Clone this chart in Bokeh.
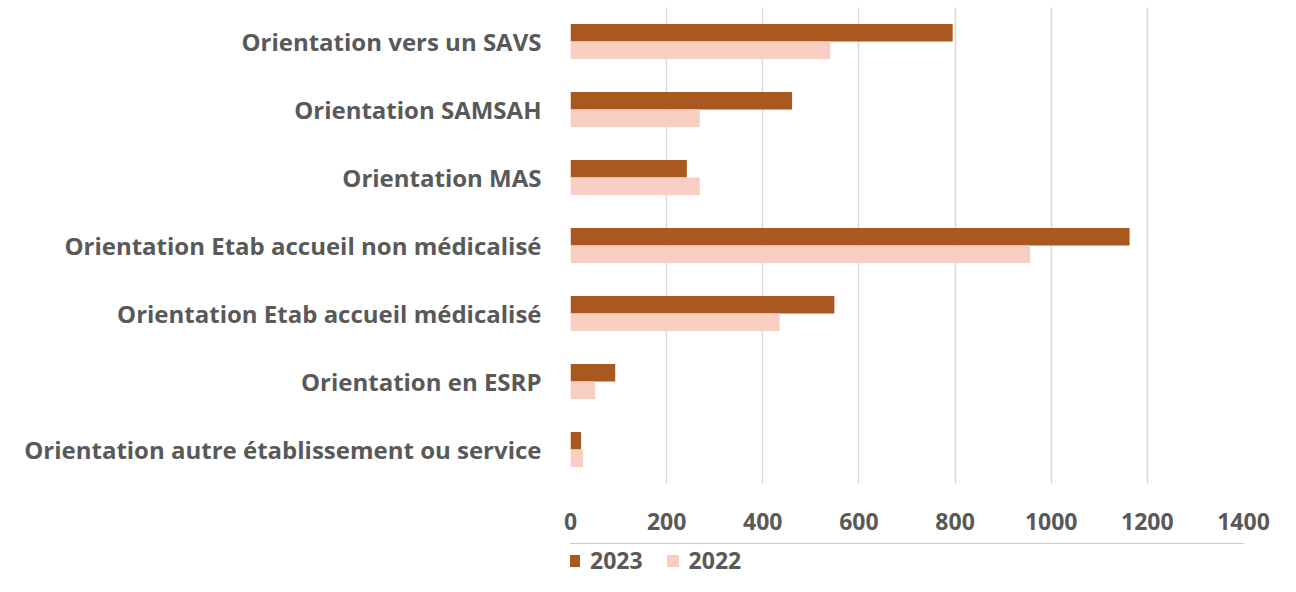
from bokeh.plotting import figure
from bokeh.layouts import column
from bokeh.models import ColumnDataSource, Legend, LegendItem, SingleIntervalTicker, Range1d, FactorRange
from bokeh.transform import dodge
from bokeh.embed import file_html
from bokeh.resources import INLINE

categories = [
    "Orientation vers un SAVS",
    "Orientation SAMSAH",
    "Orientation MAS",
    "Orientation Etab accueil non médicalisé",
    "Orientation Etab accueil médicalisé",
    "Orientation en ESRP",
    "Orientation autre établissement ou service",
]
values_2023 = [795, 461, 242, 1163, 549, 93, 22]
values_2022 = [540, 269, 269, 956, 435, 51, 26]
series_labels = ["2023", "2022"]

color_2023 = "#A9581F"
color_2022 = "#F8CDC2"
text_color = "#595959"
font = "Open Sans"

source = ColumnDataSource(dict(cat=categories, v2023=values_2023, v2022=values_2022))

p = figure(
    width=1280, height=543,
    y_range=FactorRange(*list(reversed(categories)), range_padding=0),
    x_range=Range1d(0, 1400),
    output_backend="svg", toolbar_location=None,
    min_border_left=570, min_border_right=37, min_border_top=7, min_border_bottom=60,
)
p.outline_line_color = None

r1 = p.hbar(y=dodge("cat", 0.13, range=p.y_range), right="v2023", left=0, height=0.257,
            source=source, fill_color=color_2023, line_color=None)
r2 = p.hbar(y=dodge("cat", -0.13, range=p.y_range), right="v2022", left=0, height=0.257,
            source=source, fill_color=color_2022, line_color=None)

p.xaxis.ticker = SingleIntervalTicker(interval=200)
p.xgrid.grid_line_color = "#D9D9D9"
p.xgrid.grid_line_width = 1.5
p.ygrid.grid_line_color = None

for ax in (p.xaxis, p.yaxis):
    ax.axis_line_color = None
    ax.major_tick_line_color = None
    ax.minor_tick_line_color = None
    ax.major_tick_out = 0
    ax.major_tick_in = 0
    ax.major_label_text_font = font
    ax.major_label_text_font_style = "bold"
    ax.major_label_text_color = text_color
p.xaxis.major_label_text_font_size = "23px"
p.yaxis.major_label_text_font_size = "24px"
p.xaxis.major_label_standoff = 25
p.yaxis.major_label_standoff = 29

# legend strip below the chart (its frame is aligned with the main frame)
leg = figure(
    width=1280, height=33, x_range=Range1d(0, 1), y_range=Range1d(0, 1),
    x_axis_type=None, y_axis_type=None, output_backend="svg", toolbar_location=None,
    min_border_left=0, min_border_right=0, min_border_top=0, min_border_bottom=0,
)
leg.outline_line_color = None
leg.xgrid.grid_line_color = None
leg.ygrid.grid_line_color = None
# proxy renderers for the legend swatches (zero-height, nothing drawn in the strip)
lr1 = leg.hbar(y="v2023", right="v2023", left=0, height=0, source=source,
               fill_color=color_2023, line_color=None)
lr2 = leg.hbar(y="v2022", right="v2022", left=0, height=0, source=source,
               fill_color=color_2022, line_color=None)

legend = Legend(
    items=[LegendItem(label=series_labels[0], renderers=[lr1]),
           LegendItem(label=series_labels[1], renderers=[lr2])],
    orientation="horizontal",
    location=(-4, 0),
    glyph_width=15, glyph_height=15,
    label_standoff=9, spacing=22, padding=0, margin=0,
    label_text_font=font, label_text_font_style="bold",
    label_text_font_size="23px", label_text_color=text_color,
    border_line_color=None, background_fill_alpha=0,
)
leg.add_layout(legend, "center")

layout = column(p, leg, spacing=0)
open("out.html", "w").write(file_html(layout, INLINE))
